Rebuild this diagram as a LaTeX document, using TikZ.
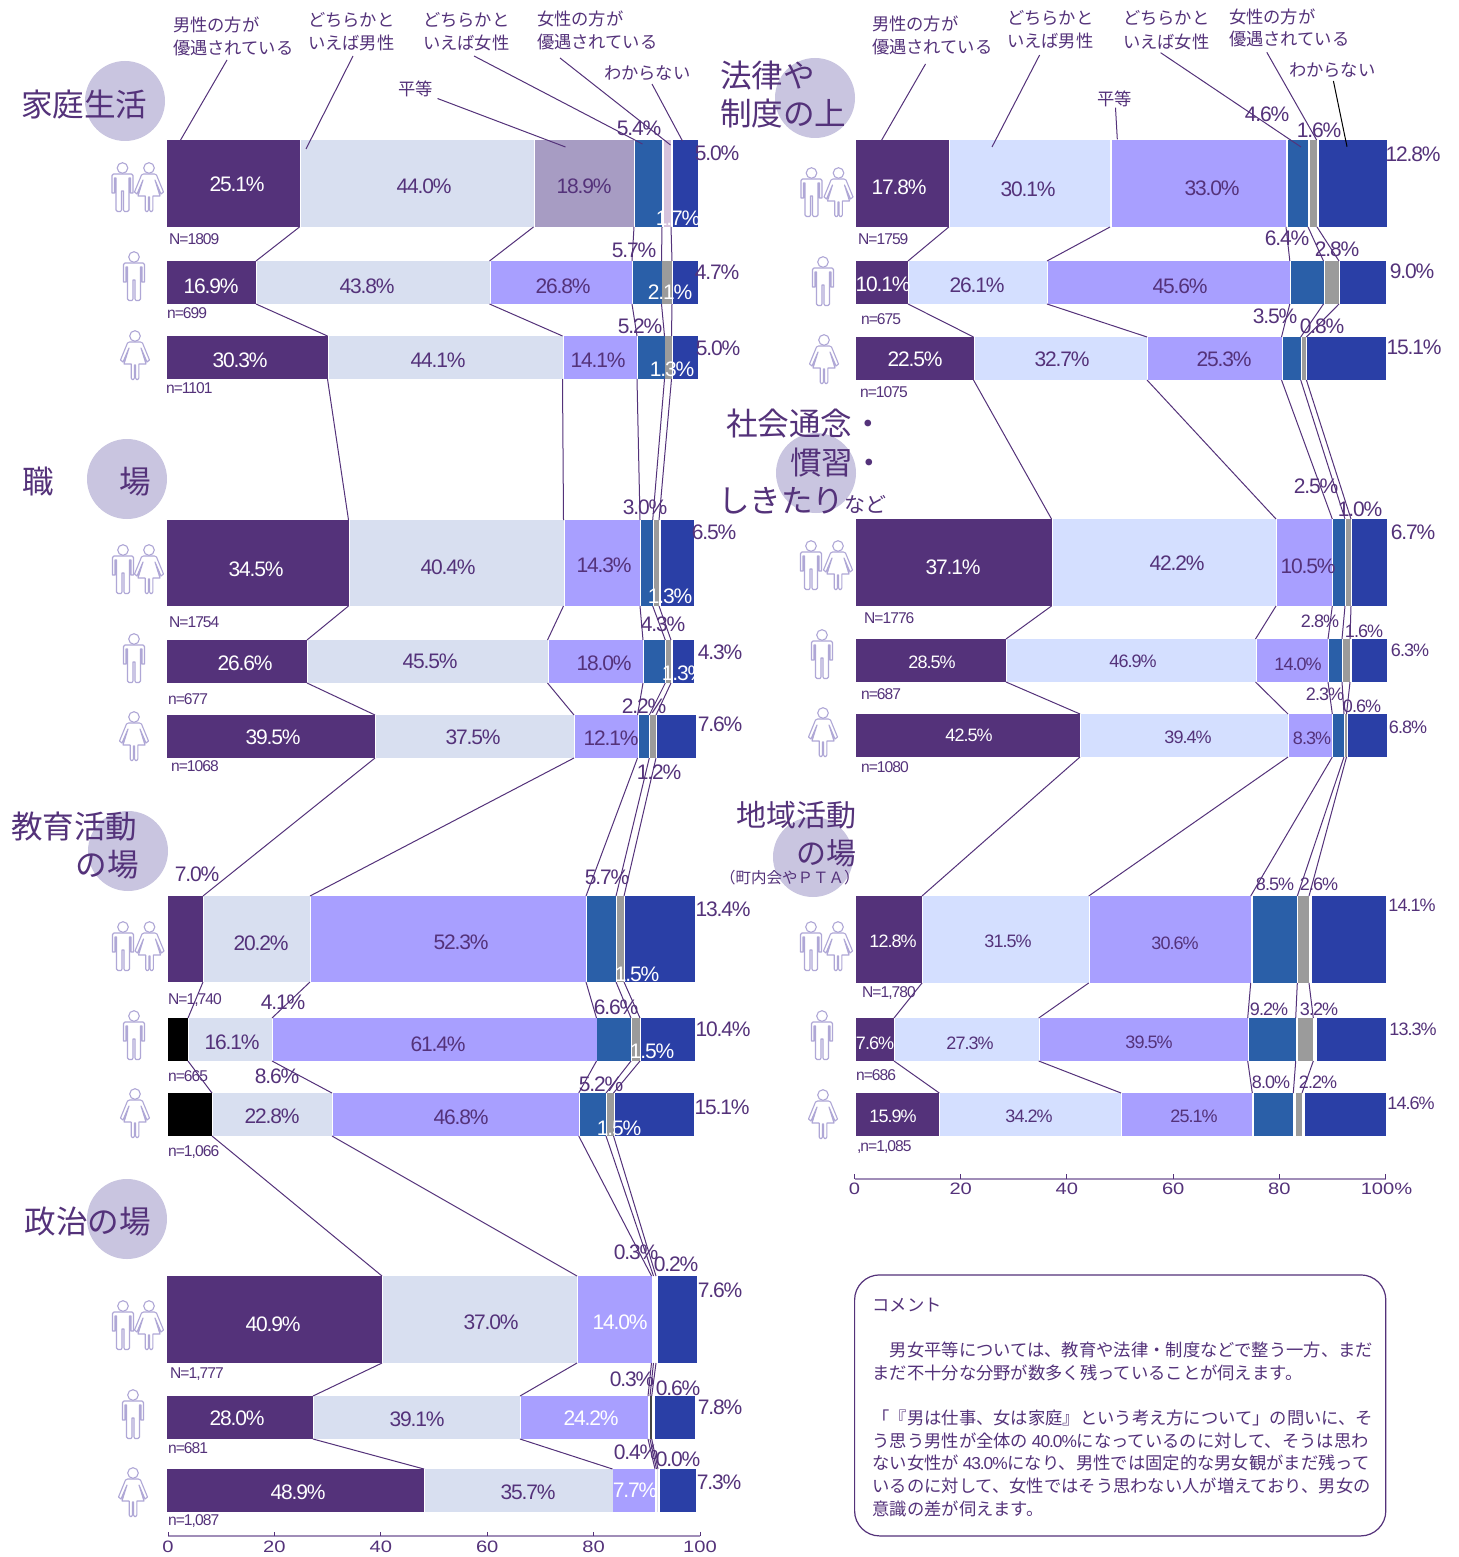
\documentclass[tikz,border=0pt]{standalone}
\usepackage{graphicx}
\usepackage{fontspec}
\setmainfont{Liberation Sans}
\newfontfamily\numf{Liberation Sans}[LetterSpace=-5.5]
\newfontfamily\numt{Liberation Sans}[LetterSpace=-6]
\newfontfamily\cjk{Noto Sans CJK JP}
\definecolor{cP}{HTML}{54327A}
\definecolor{cL}{HTML}{D8DFF0}
\definecolor{cLr}{HTML}{D4DFFF}
\definecolor{cG}{HTML}{A89FFF}
\definecolor{cGa}{HTML}{A79CC3}
\definecolor{cB}{HTML}{2A5FA8}
\definecolor{cY}{HTML}{9B9B9B}
\definecolor{cPale}{HTML}{D5C2DC}
\definecolor{cD}{HTML}{2A3FA6}
\definecolor{cCirc}{HTML}{C9C5E0}
\definecolor{cIcon}{HTML}{AFA7D6}
\definecolor{cAxis}{HTML}{A08DB8}
\definecolor{cDk}{HTML}{444444}
\definecolor{cFaint}{HTML}{DDDDE8}
\newcommand\fs[1]{\fontsize{\fpeval{#1/2}}{\fpeval{#1/2}}\selectfont}
\newcount\tn
\newcommand\place[4]{\global\advance\tn by 1 \node[lab,#1] (t\the\tn) at (#2,#3) {#4};}
\newcommand\valp[3]{\place{}{#1}{#2}{\fs{21}\numf #3\%}}
\newcommand\valw[3]{\place{text=white}{#1}{#2}{\fs{21}\numf #3\%}}
\newcommand\vals[3]{\place{}{#1}{#2}{\fs{18}\numf #3\%}}
\newcommand\valq[3]{\place{text=white}{#1}{#2}{\fs{18}\numf #3\%}}
\newcommand\cnt[3]{\place{anchor=west}{#1}{#2}{\fs{15.6}\numt #3}}
\newcommand\jl[3]{\place{anchor=west}{#1}{#2+1}{\fs{17.3}\cjk #3}}
\newcommand\head[3]{\place{anchor=west}{#1}{#2}{\fs{31.6}\cjk #3}}
\newcommand\headr[3]{\place{anchor=east}{#1}{#2}{\fs{31.6}\cjk #3}}
\newcommand\barrow[4]{%
  \pgfmathsetmacro\hh{(#3-#2)*0.5}%
  \foreach \xl/\xr/\segcol [count=\idx] in {#4}{%
    \pgfmathsetmacro\ww{(\xr-\xl)*0.5}%
    \node[seg,fill=\segcol,minimum width=\ww pt,minimum height=\hh pt] (#1-\idx) at (\xl,#2) {};%
  }}
\newcommand\linkrows[2]{\foreach \idx in {1,...,5}{\draw[con] (#1-\idx.south east) -- (#2-\idx.north east);}}
\newcommand\callout[3]{\coordinate (#1a) at #2; \coordinate (#1b) at #3; \draw[con] (#1a) -- (#1b);}
\newcommand\axislabel[3]{\place{}{#1}{#2}{\fs{16.5}\scalebox{1.22}[1]{#3}}}
\tikzset{
  seg/.style={anchor=north west,inner sep=0pt,outer sep=0pt,draw=none},
  lab/.style={inner sep=0pt,outer sep=0pt,text=cP},
  con/.style={draw=cP,line width=0.5pt},
  circ/.style={fill=cCirc,draw=none},
  icon/.style={draw=cIcon,line width=0.55pt,line join=round,fill=white},
  man/.pic={
    \draw[icon] (0,0) circle[radius=5.3];
    \draw[icon] (-10.5,7.5) -- (-9,6) -- (9,6) -- (10.5,7.5) -- (10.5,25) -- (8,25) -- (8,10) -- (6.5,10) -- (6.5,42) -- (5,43.5) -- (2,43.5) -- (1,42) -- (1,23) -- (-1,23) -- (-1,42) -- (-2,43.5) -- (-5,43.5) -- (-6.5,42) -- (-6.5,10) -- (-8,10) -- (-8,25) -- (-10.5,25) -- cycle;
  },
  woman/.pic={
    \draw[icon] (0,0) circle[radius=5.3];
    \draw[icon] (-5.5,6) -- (5.5,6) -- (7.5,7) -- (14.5,24) -- (12,26) -- (6,12) -- (11,28) -- (3.8,28) -- (3.8,42) -- (2.8,43.5) -- (1.5,43.5) -- (0.6,42) -- (0.6,29) -- (-0.6,29) -- (-0.6,42) -- (-1.5,43.5) -- (-2.8,43.5) -- (-3.8,42) -- (-3.8,28) -- (-11,28) -- (-6,12) -- (-12,26) -- (-14.5,24) -- (-7.5,7) -- cycle;
  }
}
\begin{document}
\begin{tikzpicture}[x=0.5pt,y=-0.5pt]
\useasboundingbox (0,0) rectangle (1458,1557);
\fill[white] (0,0) rectangle (1458,1557);
% circles
\fill[circ] (125,101) circle[radius=40];
\fill[circ] (127,479) circle[radius=40];
\fill[circ] (128,851) circle[radius=40];
\fill[circ] (127,1219) circle[radius=40];
\fill[circ] (815,98) circle[radius=40];
\fill[circ] (816,473) circle[radius=40];
\fill[circ] (813,857) circle[radius=40];
% left bars
\barrow{A1}{140}{227}{167/299.5/cP,300.5/533.5/cL,534.5/634/cGa,634.8/662/cB,663.5/671/cPale,672.5/698/cD}
\barrow{A2}{261}{304}{167/256/cP,257/489.5/cL,490.5/632/cG,632.8/661.5/cB,662/672/cY,673/698/cD}
\barrow{A3}{336}{379}{167/327.5/cP,328.5/562.5/cL,563.5/637/cG,638/664.5/cB,665/671.5/cY,672.5/698/cD}
\barrow{B1}{520}{606}{167/348.5/cP,349.5/563.5/cL,564.5/640/cG,640.5/652.7/cB,653.7/659/cY,661.3/694.3/cD}
\barrow{B2}{640}{683}{167/307/cP,308/547.5/cL,548.5/643/cG,643.7/665.3/cB,666/671/cY,673.3/694/cD}
\barrow{B3}{715}{758}{167/375/cP,376/574/cL,575/637.5/cG,638.7/649.3/cB,650.3/656/cY,657.3/696/cD}
\barrow{C1}{896}{982}{167.5/203/cP,204/310/cL,311/586/cG,587/616/cB,617/624/cY,625/695/cD}
\barrow{C2}{1018}{1061}{167.5/188/black,189/272/cL,273/596.5/cG,597.3/631/cB,632/640/cY,641/695/cD}
\barrow{C3}{1093}{1136}{167.5/212/black,213/332/cL,333/578.7/cG,579.7/606/cB,606.5/613.5/cY,614.5/694/cD}
\barrow{D1}{1276}{1363}{167/382/cP,383/577/cL,578/651.5/cG,652/653.5/white,654/656/white,657.7/696.7/cD}
\barrow{D2}{1396}{1439}{167/313/cP,314/520/cL,521/648/cG,648.5/650/white,650.3/651.7/cDk,655.3/695.3/cD}
\barrow{D3}{1469}{1512}{167/424/cP,425/612.5/cL,613.3/655/cG,655.5/656.5/white,657/658/cFaint,659.7/696/cD}
% right bars
\barrow{E1}{140}{227}{855.5/948.8/cP,950/1110/cLr,1111.5/1286/cG,1287.5/1308/cB,1309.5/1317/cY,1319/1386.5/cD}
\barrow{E2}{261}{304}{855.5/908/cP,909/1047/cLr,1048/1289.8/cG,1290.8/1323.5/cB,1324.8/1339/cY,1340/1386/cD}
\barrow{E3}{337}{380}{855.5/973.5/cP,974.5/1147/cLr,1148/1281.5/cG,1282.8/1300.7/cB,1301.7/1306.4/cY,1307.3/1386/cD}
\barrow{F1}{519}{606}{856/1051.5/cP,1052.5/1276/cLr,1277/1332.3/cG,1333/1345/cB,1346/1351/cY,1352/1387/cD}
\barrow{F2}{639}{682}{856/1006/cP,1007/1255.5/cLr,1256.5/1328/cG,1329/1342/cB,1343/1350/cY,1352/1387/cD}
\barrow{F3}{714}{757}{856/1080/cP,1081/1288/cLr,1289/1332.3/cG,1333/1344/cB,1345/1346.5/cY,1347.5/1387/cD}
\barrow{G1}{896}{983}{856/922/cP,923/1088.7/cLr,1089.7/1250.7/cG,1253.3/1297.3/cB,1298.3/1309/cY,1312/1385.5/cD}
\barrow{G2}{1018}{1061}{856/894/cP,895/1038.7/cLr,1039.7/1247.7/cG,1249/1295.7/cB,1298.3/1313.3/cY,1316.7/1385.7/cD}
\barrow{G3}{1093}{1136}{856/939.3/cP,940.3/1121/cLr,1122/1252.3/cG,1253.7/1293.3/cB,1296.3/1302/cY,1304.7/1385.7/cD}
% row connectors
\linkrows{A1}{A2}\linkrows{A2}{A3}\linkrows{A3}{B1}\linkrows{B1}{B2}\linkrows{B2}{B3}\linkrows{B3}{C1}
\linkrows{C1}{C2}\linkrows{C2}{C3}\linkrows{C3}{D1}\linkrows{D1}{D2}\linkrows{D2}{D3}
\linkrows{E1}{E2}\linkrows{E2}{E3}\linkrows{E3}{F1}\linkrows{F1}{F2}\linkrows{F2}{F3}\linkrows{F3}{G1}
\linkrows{G1}{G2}\linkrows{G2}{G3}
% callouts
\callout{la}{(227,60)}{(180,141)}
\callout{lb}{(353,56)}{(306,149)}
\callout{lc}{(437.5,98.5)}{(565.5,147)}
\callout{ld}{(474,56)}{(642.5,144)}
\callout{le}{(560,58)}{(670.5,145)}
\callout{lf}{(652,84)}{(682.5,141)}
\callout{ra}{(925.5,64)}{(881.3,140.7)}
\callout{rb}{(1039.6,55)}{(992,147)}
\callout{rc}{(1115.5,107.7)}{(1117.3,139.3)}
\callout{rd}{(1160.6,52.7)}{(1301,147)}
\callout{re}{(1266.8,52.3)}{(1316.6,140)}
\coordinate (rfa) at (1333.4,81); \coordinate (rfb) at (1347,146.7); \draw[line width=0.5pt,black] (rfa) -- (rfb);
% axes
\draw[line width=1pt,cAxis] (168,1536) -- (700,1536);
\foreach \tx in {168,274.4,380.8,487.2,593.6,700}{\draw[line width=0.5pt,cP] (\tx,1536) -- (\tx,1532);}
\draw[line width=1pt,cAxis] (854.5,1179) -- (1385.7,1179);
\foreach \tx in {854.5,960.7,1066.9,1173.2,1279.4,1385.7}{\draw[line width=0.5pt,cP] (\tx,1179) -- (\tx,1174.3);}
\axislabel{168}{1547}{0}\axislabel{274.4}{1547}{20}\axislabel{380.8}{1547}{40}\axislabel{487.2}{1547}{60}\axislabel{593.6}{1547}{80}\axislabel{700}{1547}{100}
\axislabel{854.5}{1189}{0}\axislabel{960.7}{1189}{20}\axislabel{1066.9}{1189}{40}\axislabel{1173.2}{1189}{60}\axislabel{1279.4}{1189}{80}\axislabel{1386.5}{1189}{100\%}
% icons
\pic at (122.5,168) {man};\pic at (149,168) {woman};\pic at (134,257) {man};\pic at (135,336) {woman};
\pic at (123,550) {man};\pic at (149,550) {woman};\pic at (134,639) {man};\pic at (134,717) {woman};
\pic at (123,927) {man};\pic at (149.5,927) {woman};\pic at (134,1016) {man};\pic at (135,1094) {woman};
\pic at (123,1306) {man};\pic at (149,1306) {woman};\pic at (133,1395) {man};\pic at (133,1473) {woman};
\pic at (811.5,173) {man};\pic at (838.5,173) {woman};\pic at (823,262) {man};\pic at (824,340) {woman};
\pic at (811,546) {man};\pic at (838,546) {woman};\pic at (822,635) {man};\pic at (823,713) {woman};
\pic at (811,927) {man};\pic at (838,927) {woman};\pic at (822,1016) {man};\pic at (823,1095) {woman};
% headings
\head{21}{105}{家庭生活}
\head{23}{482}{職}
\head{119}{482}{場}
\head{11}{827}{教育活動}
\headr{139}{865}{の場}
\head{24.5}{1222}{政治の場}
\head{720}{76}{法律や}
\head{720}{114}{制度の上}
\head{726}{424}{社会通念・}
\head{790}{463}{慣習・}
\place{anchor=west}{718}{501}{\fs{31.6}\cjk しきたり{\fs{21}など}}
\place{anchor=east}{856}{815}{\fs{30}\cjk 地域活動}
\place{anchor=east}{856}{853}{\fs{30}\cjk の場}
\place{anchor=west}{720}{878}{\fs{15.5}\cjk （町内会やＰＴＡ）}
% callout labels
\jl{173}{24}{男性の方が}\jl{173}{47}{優遇されている}
\jl{308}{19}{どちらかと}\jl{308}{42}{いえば男性}
\jl{423}{19}{どちらかと}\jl{423}{42}{いえば女性}
\jl{537}{18}{女性の方が}\jl{537}{41}{優遇されている}
\jl{604}{72}{わからない}\jl{398}{88}{平等}
\jl{872}{23}{男性の方が}\jl{872}{46}{優遇されている}
\jl{1007}{17}{どちらかと}\jl{1007}{40}{いえば男性}
\jl{1123}{17}{どちらかと}\jl{1123}{41}{いえば女性}
\jl{1229}{16}{女性の方が}\jl{1229}{38}{優遇されている}
\jl{1289}{69}{わからない}\jl{1097}{98}{平等}
% values left
\valw{237}{184}{25.1}\valp{424}{186}{44.0}\valp{584}{186}{18.9}\valp{639}{128}{5.4}\valp{717}{153}{5.0}\valw{678}{218}{1.7}
\valw{211}{286}{16.9}\valp{367}{286}{43.8}\valp{563}{286}{26.8}\valp{634}{250}{5.7}\valp{717}{272}{4.7}\valw{670}{292}{2.1}
\valw{240}{360}{30.3}\valp{438}{360}{44.1}\valp{598}{360}{14.1}\valp{640}{326}{5.2}\valp{718}{348}{5.0}\valw{672}{369}{1.3}
\valw{256}{569}{34.5}\valp{448}{567}{40.4}\valp{604}{565}{14.3}\valp{645}{507}{3.0}\valp{714}{532}{6.5}\valw{670}{596}{1.3}
\valw{245}{663}{26.6}\valp{430}{661}{45.5}\valp{604}{663}{18.0}\valp{663}{624}{4.3}\valp{720}{652}{4.3}
\begin{scope}\clip (660,640) rectangle (694,683);\valw{684}{673}{1.3}\end{scope}
\valw{273}{737}{39.5}\valp{473}{737}{37.5}\valp{611}{738}{12.1}\valp{644}{706}{2.2}\valp{720}{724}{7.6}\valp{659}{772}{1.2}
\valp{197}{874}{7.0}\valp{261}{943}{20.2}\valp{461}{942}{52.3}\valp{607}{877}{5.7}\valp{723}{909}{13.4}\valw{637}{974}{1.5}
\valp{283}{1002}{4.1}\valp{232}{1042}{16.1}\valp{438}{1044}{61.4}\valp{616}{1007}{6.6}\valp{723}{1029}{10.4}\valw{652}{1051}{1.5}
\valp{277}{1076}{8.6}\valp{272}{1116}{22.8}\valp{461}{1117}{46.8}\valp{601}{1084}{5.2}\valp{722}{1107}{15.1}\valw{619}{1128}{1.5}
\valw{273}{1324}{40.9}\valp{491}{1322}{37.0}\valw{620}{1322}{14.0}\valp{636}{1252}{0.3}\valp{676}{1264}{0.2}\valp{720}{1290}{7.6}
\valw{237}{1418}{28.0}\valp{417}{1419}{39.1}\valw{591}{1418}{24.2}\valp{632}{1379}{0.3}\valp{678}{1388}{0.6}\valp{720}{1407}{7.8}
\valw{298}{1492}{48.9}\valp{528}{1492}{35.7}\valw{635}{1490}{7.7}\valp{636}{1452}{0.4}\valp{678}{1459}{0.0}\valp{719}{1482}{7.3}
% values right
\valw{899}{187}{17.8}\valp{1028}{189}{30.1}\valp{1212}{188}{33.0}\valp{1267}{114}{4.6}\valp{1319}{130}{1.6}\valp{1413}{154}{12.8}
\valw{883}{284}{10.1}\valp{977}{285}{26.1}\valp{1180}{286}{45.6}\valp{1287}{238}{6.4}\valp{1337}{249}{2.8}\valp{1412}{271}{9.0}
\valw{915}{359}{22.5}\valp{1062}{359}{32.7}\valp{1224}{359}{25.3}\valp{1275}{316}{3.5}\valp{1322}{326}{0.8}\valp{1414}{347}{15.1}
\valw{953}{567}{37.1}\valp{1177}{563}{42.2}\valp{1308}{566}{10.5}\valp{1316}{486}{2.5}\valp{1360}{509}{1.0}\valp{1413}{532}{6.7}
\valq{932}{662}{28.5}\vals{1133}{661}{46.9}\vals{1298}{664}{14.0}\vals{1320}{621}{2.8}\vals{1364}{631}{1.6}\vals{1410}{650}{6.3}
\valq{969}{735}{42.5}\vals{1188}{737}{39.4}\vals{1312}{738}{8.3}\vals{1325}{694}{2.3}\vals{1362}{706}{0.6}\vals{1408}{727}{6.8}
\valq{893}{941}{12.8}\vals{1008}{941}{31.5}\vals{1175}{943}{30.6}\vals{1275}{884}{8.5}\vals{1319}{884}{2.6}\vals{1412}{905}{14.1}
\valq{875}{1043}{7.6}\vals{970}{1043}{27.3}\vals{1149}{1042}{39.5}\vals{1269}{1009}{9.2}\vals{1319}{1009}{3.2}\vals{1413}{1029}{13.3}
\valq{893}{1116}{15.9}\vals{1029}{1116}{34.2}\vals{1194}{1116}{25.1}\vals{1271}{1082}{8.0}\vals{1318}{1082}{2.2}\vals{1411}{1103}{14.6}
% counts
\cnt{169}{239}{N=1809}\cnt{167}{313}{n=699}\cnt{166}{388}{n=1101}\cnt{169}{622}{N=1754}\cnt{168}{699}{n=677}\cnt{171}{766}{n=1068}
\cnt{168}{1000}{N=1,740}\cnt{168}{1076}{n=665}\cnt{168}{1152}{n=1,066}\cnt{170}{1374}{N=1,777}\cnt{168}{1448}{n=681}\cnt{168}{1521}{n=1,087}
\cnt{858}{239}{N=1759}\cnt{861}{319}{n=675}\cnt{860}{392}{n=1075}\cnt{864}{618}{N=1776}\cnt{861}{694}{n=687}\cnt{861}{767}{n=1080}
\cnt{862}{993}{N=1,780}\cnt{856}{1075}{n=686}\cnt{857}{1147}{,n=1,085}
% comment
\node[draw=cP,line width=0.6pt,rounded corners=12.5pt,inner sep=0pt,minimum width=265.6pt,minimum height=130.5pt,anchor=north west] (box) at (854,1274.3) {};
\jl{872.5}{1304}{コメント}
\jl{872.5}{1349}{　男女平等については、教育や法律・制度などで整う一方、まだ}
\jl{872.5}{1372}{まだ不十分な分野が数多く残っていることが伺えます。}
\jl{872.5}{1417}{「『男は仕事、女は家庭』という考え方について」の問いに、そ}
\jl{872.5}{1440}{う思う男性が全体の{\numt\ 40.0\%}になっているのに対して、そうは思わ}
\jl{872.5}{1462}{ない女性が{\numt\ 43.0\%}になり、男性では固定的な男女観がまだ残って}
\jl{872.5}{1485}{いるのに対して、女性ではそう思わない人が増えており、男女の}
\jl{872.5}{1508}{意識の差が伺えます。}
\end{tikzpicture}
\end{document}
